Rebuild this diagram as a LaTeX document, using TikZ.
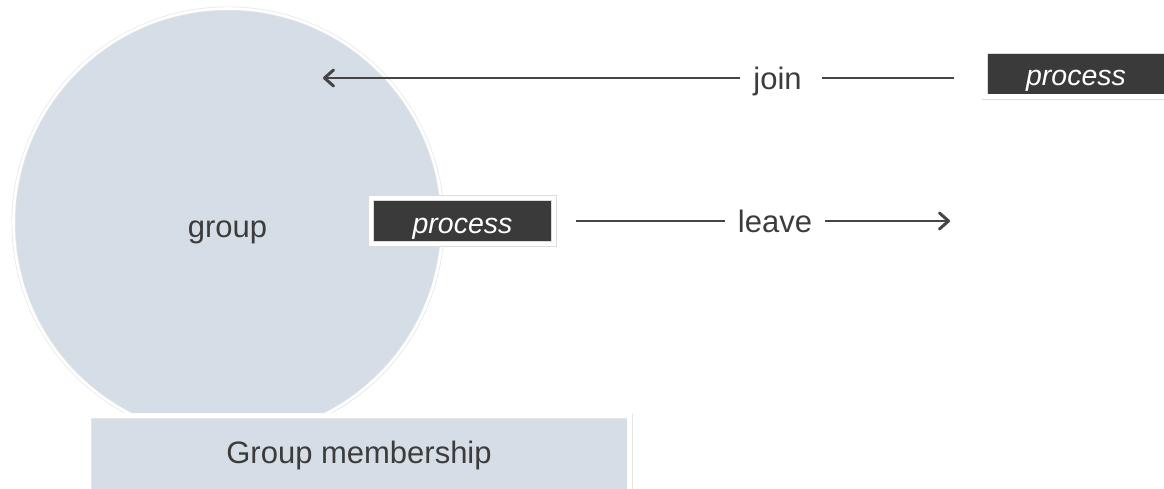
\documentclass[tikz,border=0pt]{standalone}
\usepackage{fontspec}
\setmainfont{Liberation Sans}
\usetikzlibrary{arrows.meta,shadows}
\definecolor{grpfill}{HTML}{D5DEE7}
\definecolor{procfill}{HTML}{3A3A3A}
\definecolor{txt}{HTML}{3C3C3C}
\definecolor{linec}{HTML}{454545}
\definecolor{edge}{HTML}{DCDCDC}
\begin{document}
\begin{tikzpicture}[x=1pt,y=1pt,
  lbl/.style={text=txt, font=\fontsize{31}{36}\selectfont, inner sep=0pt, inner xsep=13pt, text height=24pt, text depth=2pt},
  procbox/.style={fill=procfill, draw=edge, double=white, line width=0.8pt, double distance=4.4pt, minimum width=183pt, minimum height=46pt, inner sep=0pt, text=white, font=\fontsize{28.5}{34}\selectfont\itshape, text height=28pt, text depth=4pt, drop shadow={shadow xshift=1.2pt, shadow yshift=-2.2pt, opacity=0.22}},
  grpcircle/.style={circle, fill=grpfill, draw=edge!70, double=white, line width=0.7pt, double distance=2.6pt, minimum size=429pt, inner sep=0pt, drop shadow={shadow xshift=1.2pt, shadow yshift=-1.8pt, opacity=0.15}},
  membox/.style={fill=grpfill, draw=edge!70, double=white, line width=0.7pt, double distance=4.6pt, minimum width=541pt, minimum height=79pt, inner sep=0pt, text=txt, font=\fontsize{31}{36}\selectfont, text height=20pt, text depth=4pt, drop shadow={shadow xshift=1pt, shadow yshift=-1.5pt, opacity=0.12}},
  conn/.style={draw=linec, line width=1.6pt},
  tip/.style={-{Straight Barb[length=9pt,width=16pt,line width=3pt,round]}}
]
\useasboundingbox (0,0) rectangle (1164,-488);
\clip (0,0) rectangle (1164,-488);

\node[grpcircle] (grp) at (228,-223) {};
\node[text=txt, font=\fontsize{31}{36}\selectfont, anchor=base, inner sep=0pt] (grplbl) at (227.5,-237) {group};

\node[membox] (mem) at (359,-455) {Group membership};

\node[procbox] (p1) at (1076,-73.5) {process};
\node[procbox] (p2) at (462.5,-221) {process};

\node[lbl] (join) at (777.5,-78) {join};
\node[lbl] (leave) at (775,-221) {leave};

\coordinate (jtip) at (323,-78);
\coordinate (ltip) at (950,-221);

\draw[conn, shorten <=30pt, shorten >=7pt] (join.east -| p1.west) -- (join.east);
\draw[conn, tip] (join.west) -- (jtip);
\draw[conn, shorten <=22pt] (leave.west -| p2.east) -- (leave.west);
\draw[conn, tip] (leave.east) -- (ltip);
\end{tikzpicture}
\end{document}
